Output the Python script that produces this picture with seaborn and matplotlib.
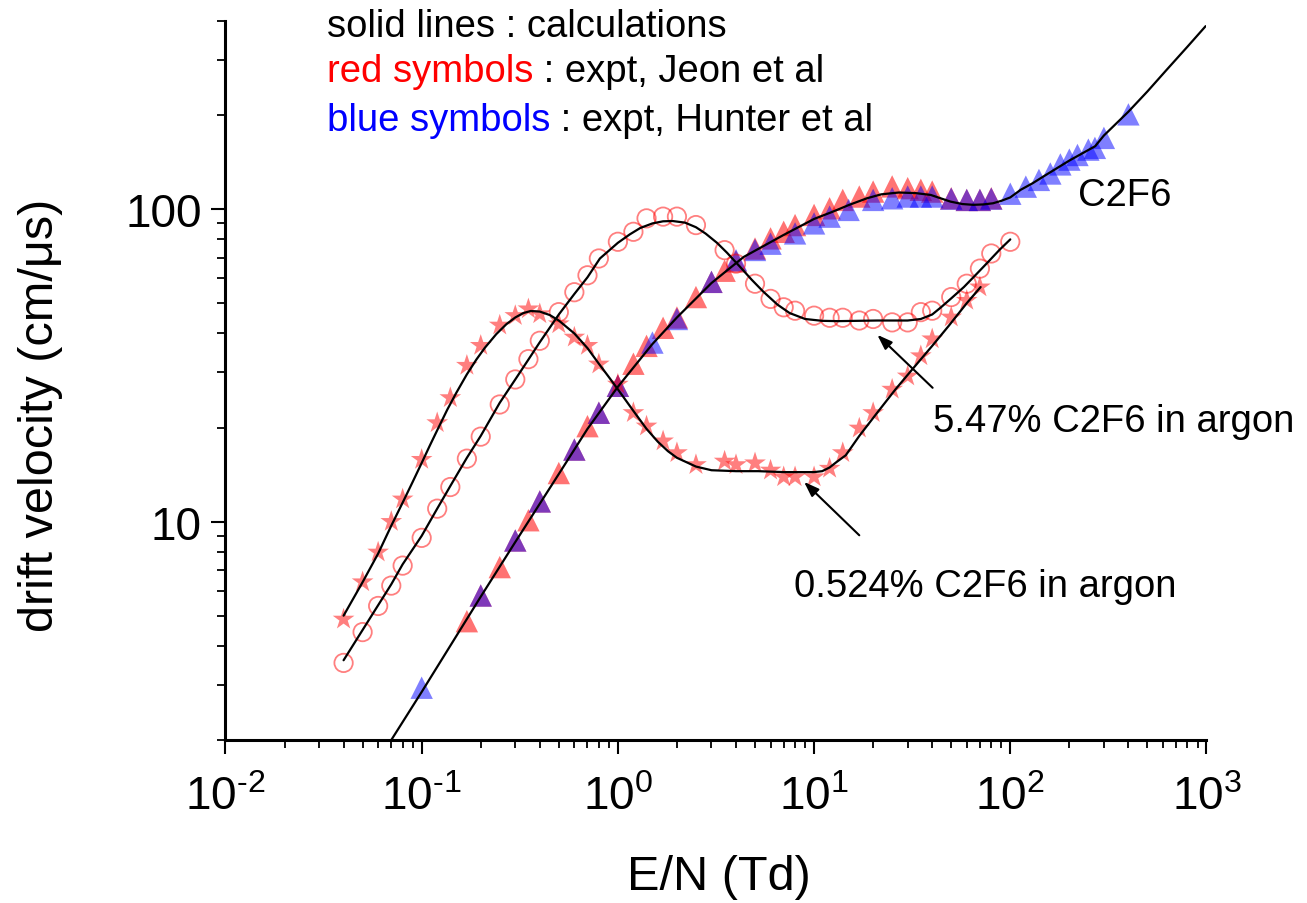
import numpy as np
import matplotlib
matplotlib.use("Agg")
import matplotlib.pyplot as plt
import seaborn as sns
from matplotlib.ticker import LogLocator, FuncFormatter, NullFormatter

# ---------------- data: E/N (Td) vs drift velocity (cm/us) ----------------
# pure C2F6, measured (Jeon et al)
jeon_c2f6_en = [0.17, 0.2, 0.25, 0.3, 0.35, 0.4, 0.5, 0.6, 0.7, 0.8, 1.0, 1.2, 1.4,
                1.7, 2.0, 2.5, 3.0, 3.5, 4.0, 5.0, 6.0, 7.0, 8.0, 10, 12, 14, 17, 20,
                25, 30, 35, 40, 50, 60, 70, 80]
jeon_c2f6_v = [4.8, 5.8, 7.15, 8.7, 10.1, 11.6, 14.3, 17.0, 20.2, 22.3, 27.2, 32.0,
               36.5, 41.7, 45.0, 52.3, 58.5, 63.5, 68.0, 74.8, 80.6, 84.6, 88.9, 95.8,
               100.6, 107.0, 109.7, 113.8, 118.2, 116.7, 115.3, 113.8, 108.3, 107.0,
               107.0, 108.3]

# pure C2F6, measured (Hunter et al)
hunter_c2f6_en = [0.1, 0.2, 0.3, 0.4, 0.6, 0.8, 1.0, 1.5, 2.0, 3.0, 4.0, 5.0, 6.0,
                  8.0, 10, 12, 15, 20, 25, 30, 35, 40, 50, 60, 70, 80, 100, 120, 140,
                  160, 180, 200, 220, 250, 270, 300, 400]
hunter_c2f6_v = [2.94, 5.8, 8.7, 11.6, 17.0, 22.3, 27.2, 37.4, 44.5, 58.5, 68.6, 74.0,
                 77.5, 83.6, 90.0, 94.6, 99.4, 107.0, 108.3, 109.7, 109.7, 109.7, 108.0,
                 107.0, 107.0, 108.0, 112.0, 118.0, 124.0, 130.0, 139.0, 144.0, 149.0,
                 155.0, 157.0, 169.0, 201.0]

# 0.524% C2F6 in argon, measured (Jeon et al)
mix0524_en = [0.04, 0.05, 0.06, 0.07, 0.08, 0.1, 0.12, 0.14, 0.17, 0.2, 0.25, 0.3,
              0.35, 0.4, 0.5, 0.6, 0.7, 0.8, 1.0, 1.2, 1.4, 1.7, 2.0, 2.5, 3.5, 4.0,
              5.0, 6.0, 7.0, 8.0, 10, 12, 14, 17, 20, 25, 30, 35, 40, 50, 60, 70]
mix0524_v = [4.87, 6.41, 7.98, 10.0, 11.8, 15.8, 20.7, 24.9, 31.6, 36.6, 42.5, 45.6,
             47.9, 46.2, 42.9, 38.9, 36.6, 31.9, 27.5, 22.3, 20.2, 18.1, 16.6, 15.2,
             15.6, 15.2, 15.4, 14.6, 13.9, 13.9, 13.9, 14.8, 16.6, 19.9, 22.3, 26.5,
             29.2, 33.9, 38.4, 45.1, 51.0, 56.3]

# 5.47% C2F6 in argon, measured (Jeon et al)
mix547_en = [0.04, 0.05, 0.06, 0.07, 0.08, 0.1, 0.12, 0.14, 0.17, 0.2, 0.25, 0.3,
             0.35, 0.4, 0.5, 0.6, 0.7, 0.8, 1.0, 1.2, 1.4, 1.7, 2.0, 2.5, 3.5, 4.0,
             5.0, 6.0, 7.0, 8.0, 10, 12, 14, 17, 20, 25, 30, 35, 40, 50, 60, 70, 80,
             100]
mix547_v = [3.53, 4.43, 5.37, 6.24, 7.23, 8.87, 11.0, 12.9, 15.9, 18.7, 23.7, 28.5,
            33.1, 37.9, 46.8, 54.2, 61.4, 69.5, 78.6, 84.6, 93.4, 94.6, 94.6, 88.9,
            73.9, 66.9, 57.7, 51.6, 48.5, 47.3, 45.6, 44.9, 44.9, 44.0, 44.5, 43.4,
            43.4, 46.8, 47.3, 52.3, 57.7, 64.5, 72.1, 78.6]

# calculated drift velocities
calc_c2f6_en = [0.06, 0.07, 0.1, 0.2, 0.3, 0.5, 0.7, 1.0, 1.5, 2.0, 3.0, 4.38, 6.98,
                10, 12.5, 15, 18.6, 22, 27, 33, 39.3, 49.5, 57, 64.8, 73, 81.7, 90,
                100, 113, 130, 150, 200, 271, 300, 400, 500, 623, 800, 990]
calc_c2f6_v = [1.72, 2.0, 2.85, 5.75, 8.6, 14.2, 19.8, 27.0, 37.0, 45.0, 58.0, 70.3,
               82.6, 93.0, 98.2, 103.0, 108.3, 111.5, 113.0, 112.5, 111.0, 105.7,
               103.8, 103.2, 103.5, 104.4, 106.3, 109.0, 115.3, 121.0, 128.0, 143.0,
               159.0, 172.0, 205.0, 238.0, 278.0, 331.0, 385.0]

calc_0524_en = [0.04, 0.05, 0.06, 0.07, 0.08, 0.09, 0.1, 0.11, 0.12, 0.135, 0.15,
                0.17, 0.19, 0.21, 0.24, 0.27, 0.3, 0.33, 0.36, 0.4, 0.45, 0.5, 0.6,
                0.7, 0.8, 0.9, 1.0, 1.2, 1.4, 1.6, 1.8, 2.0, 2.5, 3.0, 4.0, 5.2, 7.0,
                10, 11, 12, 13, 14.5, 17, 21.2, 26, 31.8, 40, 48.4, 60, 70.6]
calc_0524_v = [5.0, 6.4, 7.9, 9.7, 11.5, 13.4, 15.4, 17.5, 19.6, 22.8, 25.8, 29.6,
               33.0, 36.0, 39.8, 42.8, 45.0, 46.5, 47.2, 47.0, 45.8, 44.0, 40.0, 35.9,
               32.0, 29.0, 26.5, 22.6, 19.8, 18.0, 16.8, 16.0, 15.0, 14.6, 14.5, 14.5,
               14.4, 14.4, 14.5, 14.9, 15.5, 16.3, 18.8, 22.5, 26.5, 30.8, 36.5, 42.2,
               50.0, 56.3]

calc_547_en = [0.04, 0.05, 0.06, 0.07, 0.08, 0.1, 0.12, 0.14, 0.17, 0.2, 0.25, 0.3,
               0.35, 0.4, 0.5, 0.6, 0.7, 0.81, 1.0, 1.15, 1.3, 1.5, 1.7, 1.9, 2.2,
               2.5, 2.8, 3.2, 3.6, 4.2, 4.8, 5.5, 6.5, 7.5, 9.0, 11, 13.2, 21, 30, 35,
               40, 44, 50, 58, 67, 77, 88, 100]
calc_547_v = [3.6, 4.5, 5.4, 6.3, 7.3, 9.0, 11.0, 13.0, 16.0, 18.8, 24.0, 28.5, 33.0,
              37.5, 46.0, 53.5, 60.5, 69.5, 78.0, 83.0, 87.0, 90.0, 91.4, 91.6, 90.5,
              87.5, 83.5, 78.0, 72.5, 65.3, 59.5, 54.5, 49.5, 46.5, 44.5, 43.9, 43.8,
              44.0, 44.0, 44.5, 46.0, 48.3, 51.8, 56.3, 61.8, 67.7, 74.0, 80.0]

# ---------------- styling ----------------
sns.set_theme(style="ticks", rc={
    "axes.edgecolor": "black", "text.color": "black",
    "xtick.color": "black", "ytick.color": "black", "axes.labelcolor": "black",
})
plt.rcParams["font.family"] = ["Liberation Sans", "DejaVu Sans"]
plt.rcParams["mathtext.fontset"] = "custom"
plt.rcParams["mathtext.rm"] = "Liberation Sans"
plt.rcParams["mathtext.it"] = "Liberation Sans:italic"
plt.rcParams["mathtext.bf"] = "Liberation Sans:bold"
plt.rcParams["axes.unicode_minus"] = False

fig = plt.figure(figsize=(13.07, 9.04), dpi=100)
ax = fig.add_axes([0.1725, 0.1803, 0.7506, 0.7954])
ax.set_xscale("log")
ax.set_yscale("log")

# measured points
sns.scatterplot(x=jeon_c2f6_en, y=jeon_c2f6_v, marker="^", s=260, color="red",
                alpha=0.55, edgecolor="none", ax=ax, zorder=2)
sns.scatterplot(x=hunter_c2f6_en, y=hunter_c2f6_v, marker="^", s=260, color="blue",
                alpha=0.5, edgecolor="none", ax=ax, zorder=2)
sns.scatterplot(x=mix0524_en, y=mix0524_v, marker="*", s=270, color="red",
                alpha=0.5, edgecolor="none", ax=ax, zorder=2)
sns.scatterplot(x=mix547_en, y=mix547_v, marker="o", s=175, facecolor="none",
                edgecolor="red", linewidth=1.3, alpha=0.5, ax=ax, zorder=2)

# calculations
for xs, ys in [(calc_c2f6_en, calc_c2f6_v), (calc_0524_en, calc_0524_v),
               (calc_547_en, calc_547_v)]:
    sns.lineplot(x=xs, y=ys, color="black", lw=1.6, estimator=None, sort=False,
                 ax=ax, zorder=3)

# axes
ax.set_xlim(0.01, 1000)
ax.set_ylim(2, 400)
ax.xaxis.set_major_locator(LogLocator(base=10, numticks=12))
ax.xaxis.set_minor_locator(LogLocator(base=10, subs=np.arange(2, 10), numticks=40))
ax.yaxis.set_major_locator(LogLocator(base=10, numticks=12))
ax.yaxis.set_minor_locator(LogLocator(base=10, subs=np.arange(2, 10), numticks=40))


def decade_label(v, pos):
    exp = int(round(np.log10(v)))
    if exp < 0:
        return r"$\mathdefault{10^{\text{-}%d}}$" % (-exp)
    return r"$\mathdefault{10^{%d}}$" % exp


ax.xaxis.set_major_formatter(FuncFormatter(decade_label))
ax.yaxis.set_major_formatter(FuncFormatter(lambda v, p: "%d" % round(v)))
ax.xaxis.set_minor_formatter(NullFormatter())
ax.yaxis.set_minor_formatter(NullFormatter())

sns.despine(ax=ax)
for side in ["left", "bottom"]:
    ax.spines[side].set_linewidth(2.2)
    ax.spines[side].set_color("black")
ax.tick_params(which="major", direction="out", length=10, width=1.5)
ax.tick_params(which="minor", direction="out", length=5.5, width=1.3)
ax.tick_params(axis="x", which="major", labelsize=33, pad=15)
ax.tick_params(axis="y", which="major", labelsize=33, pad=7)

ax.set_xlabel("E/N (Td)", fontsize=35, va="center")
ax.set_ylabel("drift velocity (cm/\u03bcs)", fontsize=35, va="center")
ax.xaxis.set_label_coords(0.503, -0.19)
ax.yaxis.set_label_coords(-0.189, 0.453)

# key text
fs = 27.5
ax.text(0.103, 0.9787, "solid lines : calculations", transform=ax.transAxes,
        fontsize=fs, va="baseline", ha="left")
t_red = ax.text(0.103, 0.9159, "red symbols", transform=ax.transAxes, color="red",
                fontsize=fs, va="baseline", ha="left")
ax.annotate(" : expt, Jeon et al", xy=(1, 0), xycoords=t_red, fontsize=fs,
            va="bottom", ha="left")
t_blue = ax.text(0.103, 0.8484, "blue symbols", transform=ax.transAxes, color="blue",
                 fontsize=fs, va="baseline", ha="left")
ax.annotate(" : expt, Hunter et al", xy=(1, 0), xycoords=t_blue, fontsize=fs,
            va="bottom", ha="left")

# curve labels and arrows
ax.text(222, 111, "C2F6", fontsize=fs, va="center", ha="left")
arrow = dict(arrowstyle="-|>,head_length=0.45,head_width=0.16", color="black",
             lw=1.5, mutation_scale=20, shrinkA=0, shrinkB=0)
ax.annotate("", xy=(21.0, 39.6), xytext=(40.2, 26.8), arrowprops=arrow)
ax.text(40.2, 21.0, "5.47% C2F6 in argon", fontsize=fs, va="center", ha="left")
ax.annotate("", xy=(8.89, 13.4), xytext=(17.0, 9.04), arrowprops=arrow)
ax.text(7.94, 6.24, "0.524% C2F6 in argon", fontsize=fs, va="center", ha="left")

fig.savefig("out.png", dpi=100)
